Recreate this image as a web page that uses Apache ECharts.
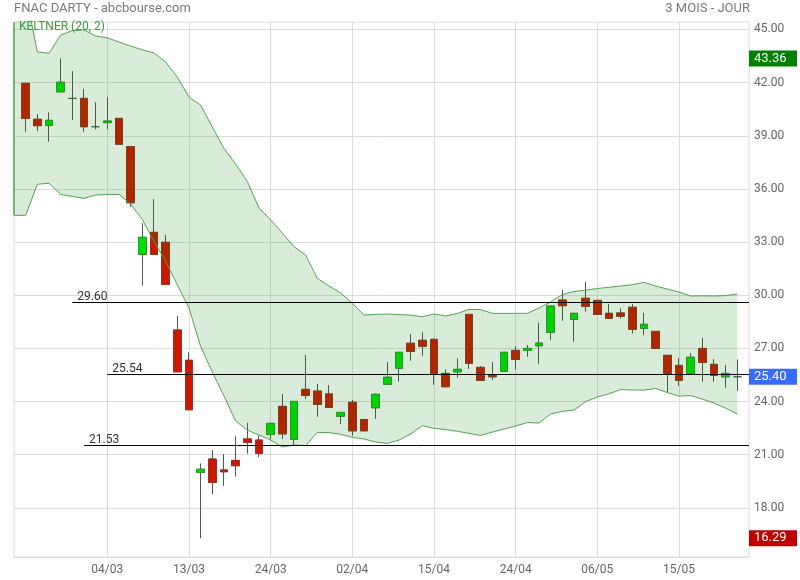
<!DOCTYPE html>
<html><head><meta charset="utf-8">
<script src="https://cdn.jsdelivr.net/npm/echarts@6/dist/echarts.min.js"></script>
<style>html,body{margin:0;padding:0;background:#fff}#c{width:800px;height:580px}</style>
</head><body><div id="c"></div>
<script>
const dates = ['24/02','25/02','26/02','27/02','28/02',
 '02/03','03/03','04/03','05/03','06/03','09/03','10/03','11/03','12/03','13/03','16/03','17/03','18/03','19/03','20/03','23/03','24/03','25/03','26/03','27/03','30/03','31/03',
 '01/04','02/04','03/04','06/04','07/04','08/04','09/04','14/04','15/04','16/04','17/04','20/04','21/04','22/04','23/04','24/04','27/04','28/04','29/04','30/04',
 '04/05','05/05','06/05','07/05','08/05','11/05','12/05','13/05','14/05','15/05','18/05','19/05','20/05','21/05','22/05'];
const openV  = [41.96,39.93,39.59,41.48,41.11,41.11,39.51,39.74,39.98,38.38,32.31,33.55,32.99,28.04,26.33,20.01,20.76,20.14,20.68,21.89,21.83,22.15,23.73,21.87,24.69,24.59,24.43,23.17,23.96,22.99,23.65,24.97,25.88,27.29,27.46,27.51,25.59,25.68,28.92,25.93,25.51,25.71,26.89,26.89,27.15,27.91,29.73,28.64,29.83,29.71,28.98,29.00,29.32,28.13,27.96,26.61,26.04,25.57,27.00,26.10,25.40,25.40];
const highV  = [41.96,40.23,40.32,43.36,42.65,41.64,40.89,41.17,39.98,38.38,34.06,35.43,33.40,28.83,26.78,20.51,21.26,21.04,22.05,22.81,22.09,22.77,24.43,24.01,26.63,24.99,24.93,23.39,24.09,22.99,24.46,26.23,26.78,27.81,27.91,27.57,25.82,26.44,28.92,26.00,26.23,26.78,27.13,27.19,28.45,29.39,30.29,28.98,30.75,29.71,29.50,29.26,29.50,29.01,27.96,26.61,26.46,26.74,27.59,26.40,26.06,26.38];
const lowV   = [39.23,39.27,38.66,41.48,39.89,39.23,39.36,39.36,38.52,35.00,30.54,32.31,30.56,25.68,23.51,16.29,18.76,19.25,19.76,21.06,20.85,21.87,21.89,21.53,24.14,23.14,23.67,22.73,22.07,22.35,23.03,24.97,25.12,26.30,26.59,24.95,24.78,25.35,25.84,25.20,25.21,25.71,25.80,26.53,26.13,27.47,28.56,27.38,29.07,28.92,28.70,28.67,27.85,27.74,27.00,24.54,24.89,25.57,25.12,25.12,24.78,24.61];
const closeV = [39.98,39.57,39.87,42.02,41.11,39.51,39.51,39.83,38.52,35.22,33.27,32.31,30.62,25.68,23.54,20.18,19.44,20.04,20.38,21.70,21.08,22.77,22.18,24.01,24.35,23.84,23.67,23.39,22.35,22.35,24.41,25.37,26.78,26.83,27.12,25.57,24.84,25.82,26.16,25.20,25.40,26.78,26.38,27.00,27.30,29.39,29.41,28.98,29.37,28.92,28.70,28.81,28.08,28.36,27.00,25.57,25.20,26.50,26.21,25.48,25.59,25.40];
const keltnerUpper = [47.0,43.73,43.65,44.68,44.93,44.97,44.63,44.53,44.29,44.06,43.85,43.67,43.16,42.31,41.18,40.73,39.49,38.28,37.40,36.42,34.92,34.26,33.51,32.74,32.27,30.95,30.52,30.12,29.56,28.88,28.92,28.94,28.91,28.88,28.79,28.94,28.83,28.97,29.20,29.19,28.98,28.98,28.98,28.98,29.28,29.62,30.04,30.21,30.29,30.38,30.45,30.52,30.59,30.73,30.52,30.35,30.18,29.96,29.97,29.96,29.98,30.07];
const keltnerLower = [34.51,36.26,36.32,35.69,35.58,35.47,35.66,35.68,35.69,35.15,34.27,33.03,31.93,30.58,29.28,27.10,25.67,24.31,22.90,22.39,22.11,21.83,21.43,21.55,21.51,22.26,22.25,22.15,21.98,21.89,21.72,21.64,21.83,22.17,22.64,22.49,22.42,22.32,22.21,22.09,22.28,22.45,22.62,22.82,22.79,23.30,23.45,23.52,24.00,24.26,24.44,24.68,24.65,24.65,24.74,24.51,24.31,24.34,24.14,23.92,23.63,23.30];
const xTickLabels = ['04/03','13/03','24/03','02/04','15/04','24/04','06/05','15/05'];
const yTickValues = [18,21,24,27,30,33,36,39,42,45];
const levelValues = [29.60, 25.54, 21.53];
const levelStartDates = ['28/02','04/03','02/03'];
const maxHigh = 43.36, lastClose = 25.40, minLow = 16.29;
const yMin = 15.23, yMax = 45.42;

const FONT = 'Roboto, "Liberation Sans", sans-serif';
const cats = [''].concat(dates, [' ']);
const last = cats.length - 1;
const wickData = ['-'].concat(dates.map((d,i)=>[openV[i],closeV[i],lowV[i],highV[i]]), ['-']);
const bodyData = ['-'].concat(dates.map((d,i)=> openV[i]===closeV[i] ? '-' :
  [openV[i],closeV[i],Math.min(openV[i],closeV[i]),Math.max(openV[i],closeV[i])]), ['-']);
const lowerPad = [keltnerLower[0]].concat(keltnerLower, ['-']);
const diffPad = [+(keltnerUpper[0]-keltnerLower[0]).toFixed(2)].concat(keltnerUpper.map((u,i)=>+(u-keltnerLower[i]).toFixed(2)), ['-']);
const BAND = '#4fa44f';

const chart = echarts.init(document.getElementById('c'), null, {renderer:'canvas'});
const near = (a,b)=>Math.abs(a-b)<1e-6;
const badge = bg => ({backgroundColor:bg,color:'#fff',fontSize:13,width:43,height:16,lineHeight:16,padding:[0,0,0,5],fontFamily:FONT});
chart.setOption({
  animation:false,
  backgroundColor:'#fff',
  textStyle:{fontFamily:FONT},
  grid:{left:14,right:48,top:22,bottom:23,show:true,borderColor:'#dcdcdc',borderWidth:1},
  graphic:[
    {type:'text',left:14,top:2,style:{text:'FNAC DARTY - abcbourse.com',fill:'#7a7a7a',font:'13px '+FONT}},
    {type:'text',right:50,top:2,style:{text:'3 MOIS - JOUR',fill:'#7a7a7a',font:'13px '+FONT}},
    {type:'text',left:19,top:21,z:100,style:{text:'KELTNER (20, 2)',fill:'#3c9c3c',font:'12px '+FONT}}
  ],
  xAxis:{type:'category',data:cats,boundaryGap:false,
    axisLine:{show:true,lineStyle:{color:'#dcdcdc'}},
    axisTick:{show:false},
    axisLabel:{interval:(i,v)=>xTickLabels.includes(v),color:'#666',fontSize:12,margin:7,fontFamily:FONT},
    splitLine:{show:true,interval:(i,v)=>xTickLabels.includes(v),lineStyle:{color:'#dcdcdc'}}
  },
  yAxis:[
    {type:'value',position:'right',min:yMin,max:yMax,scale:true,
     axisLine:{show:false},axisTick:{show:false,customValues:yTickValues},
     axisLabel:{customValues:yTickValues,formatter:v=>v.toFixed(2),color:'#666',fontSize:12,margin:5,fontFamily:FONT},
     splitLine:{show:true,lineStyle:{color:'#dcdcdc'}}},
    {type:'value',position:'right',offset:0,min:yMin,max:yMax,scale:true,
     axisLine:{show:false},axisTick:{show:false},splitLine:{show:false},
     axisLabel:{customValues:[minLow,lastClose,maxHigh],margin:0,fontFamily:FONT,
       formatter:v=> near(v,maxHigh)?'{g|'+v.toFixed(2)+'}': near(v,minLow)?'{r|'+v.toFixed(2)+'}':'{b|'+v.toFixed(2)+'}',
       rich:{g:badge('#008000'),b:badge('#3a6bff'),r:badge('#c00000')}}}
  ],
  series:[
    {type:'line',name:'lower',data:lowerPad,stack:'k',symbol:'none',silent:true,
     lineStyle:{color:BAND,width:1},
     markLine:{silent:true,symbol:['none','none'],label:{show:false},emphasis:{disabled:true},
       lineStyle:{color:BAND,width:1.5,type:'solid'},
       data:[[{coord:[0,keltnerLower[0]]},{coord:[0,Math.min(keltnerUpper[0],yMax)]}]]}},
    {type:'line',name:'upper',data:diffPad,stack:'k',symbol:'none',silent:true,
     lineStyle:{color:BAND,width:1},areaStyle:{color:'rgba(0,128,0,0.21)'}},
    {type:'candlestick',name:'wick',data:wickData,barWidth:8,silent:true,
     itemStyle:{color:'#00e000',color0:'#cc1800',borderColor:'#4d5b4d',borderColor0:'#4d5b4d',borderColorDoji:'#4d5b4d',borderWidth:1},
     markLine:{silent:true,symbol:['none','none'],
       lineStyle:{color:'#000',width:1,type:'solid'},
       label:{position:'insideStartTop',formatter:p=>Number(p.value).toFixed(2),color:'#333',fontSize:12,fontFamily:FONT,distance:[5,-1]},
       emphasis:{disabled:true},
       data:levelValues.map((v,i)=>[{coord:[cats.indexOf(levelStartDates[i]),v],value:v},{coord:[last,v],value:v}])}},
    {type:'candlestick',name:'body',data:bodyData,barWidth:8,silent:true,
     itemStyle:{color:'#00e000',color0:'#cc1800',borderColor:'#2f9a2f',borderColor0:'#9c3322',borderWidth:1}}
  ]
});
</script></body></html>
